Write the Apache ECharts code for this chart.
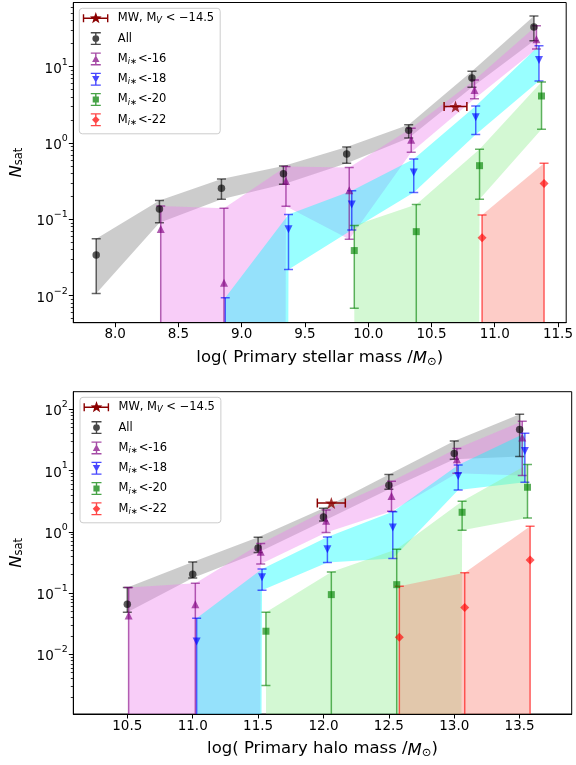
<!DOCTYPE html>
<html>
<head>
<meta charset="utf-8">
<script src="https://cdn.jsdelivr.net/npm/echarts@6/dist/echarts.min.js"></script>
<style>
  html, body { margin: 0; padding: 0; background: #ffffff; }
  #chart { width: 576px; height: 765px; }
</style>
</head>
<body>
<div id="chart"></div>
<script>
// ---------- Satellite counts vs primary stellar mass (upper panel) ----------
const sAllX = [7.85, 8.35, 8.84, 9.33, 9.83, 10.32, 10.82, 11.31];
const sAllY = [0.034, 0.137, 0.255, 0.397, 0.718, 1.47, 7.11, 33.1];
const sAllLo = [0.0107, 0.0904, 0.183, 0.288, 0.542, 1.16, 5.37, 21.9];
const sAllHi = [0.0555, 0.177, 0.338, 0.50, 0.887, 1.74, 8.7, 46.1];

const s16X = [8.36, 8.86, 9.35, 9.85, 10.34, 10.84, 11.33];
const s16Y = [0.075, 0.0148, 0.318, 0.240, 1.10, 4.95, 22.8];
const s16Lo = [0, 0, 0.148, 0.0547, 0.755, 3.81, 17.0];
const s16Hi = [0.150, 0.140, 0.491, 0.478, 1.56, 6.7, 34.5];

const s18X = [8.87, 9.37, 9.87, 10.36, 10.85, 11.35];
const s18Y = [0, 0.074, 0.157, 0.41, 2.17, 12.2];
const s18Lo = [0, 0.0221, 0.0726, 0.225, 1.29, 6.5];
const s18Hi = [0.0094, 0.116, 0.237, 0.618, 3.06, 18.8];

const s20X = [9.89, 10.38, 10.88, 11.37];
const s20Y = [0.039, 0.069, 0.505, 4.13];
const s20Lo = [0.00683, 0, 0.183, 1.51];
const s20Hi = [0.083, 0.157, 0.826, 6.3];

const s22X = [10.90, 11.39];
const s22Y = [0.0575, 0.295];
const s22Lo = [0, 0];
const s22Hi = [0.114, 0.545];

const sMW = { x: 10.69, xerr: 0.09, y: 3.0 };

// ---------- Satellite counts vs primary halo mass (lower panel) ----------
const hAllX = [10.50, 11.00, 11.50, 12.00, 12.50, 13.00, 13.50];
const hAllY = [0.0655, 0.202, 0.545, 1.75, 5.74, 18.9, 46.6];
const hAllLo = [0.0485, 0.176, 0.46, 1.50, 4.94, 15.3, 16.9];
const hAllHi = [0.1226, 0.321, 0.813, 2.42, 8.58, 30.4, 82.8];

const h16X = [10.51, 11.02, 11.52, 12.02, 12.52, 13.02, 13.52];
const h16Y = [0.0428, 0.0655, 0.474, 1.52, 3.85, 15.3, 34.5];
const h16Lo = [0, 0, 0.298, 0.969, 2.16, 9.0, 8.3];
const h16Hi = [0.1226, 0.144, 0.641, 2.27, 6.67, 22.8, 63.7];

const h18X = [11.03, 11.53, 12.03, 12.53, 13.03, 13.54];
const h18Y = [0.0161, 0.181, 0.518, 1.17, 8.16, 20.9];
const h18Lo = [0, 0.111, 0.314, 0.365, 4.82, 6.43];
const h18Hi = [0.0387, 0.247, 0.824, 2.13, 12.3, 40.6];

const h20X = [11.56, 12.06, 12.56, 13.06, 13.56];
const h20Y = [0.0238, 0.0942, 0.137, 2.08, 5.33];
const h20Lo = [0.00308, 0, 0, 1.06, 1.68];
const h20Hi = [0.0485, 0.221, 0.518, 3.15, 12.5];

const h22X = [12.58, 13.08, 13.58];
const h22Y = [0.019, 0.0578, 0.347];
const h22Lo = [0, 0, 0];
const h22Hi = [0.129, 0.215, 1.23];

const hMW = { x: 12.06, xerr: 0.107, y: 2.95 };

// ---------- axis ticks ----------
const sXTicks = [8.0, 8.5, 9.0, 9.5, 10.0, 10.5, 11.0, 11.5];
const hXTicks = [10.5, 11.0, 11.5, 12.0, 12.5, 13.0, 13.5];
const sYDecades = [-2, -1, 0, 1];
const hYDecades = [-2, -1, 0, 1, 2];

// ---------- styling ----------
const FONT = 'DejaVu Sans';
const GROUPS = {
  all: { marker: 'rgba(0,0,0,0.8)', bar: 'rgba(0,0,0,0.6)', fill: 'rgba(128,128,128,0.4)', symbol: 'circle', size: 7.5, rotate: 0 },
  m16: { marker: 'rgba(128,0,128,0.8)', bar: 'rgba(128,0,128,0.6)', fill: 'rgba(238,130,238,0.4)', symbol: 'triangle', size: 8, rotate: 0 },
  m18: { marker: 'rgba(0,0,255,0.8)', bar: 'rgba(0,0,255,0.6)', fill: 'rgba(0,255,255,0.4)', symbol: 'triangle', size: 8, rotate: 180 },
  m20: { marker: 'rgba(0,128,0,0.8)', bar: 'rgba(0,128,0,0.6)', fill: 'rgba(144,238,144,0.4)', symbol: 'rect', size: 7, rotate: 0 },
  m22: { marker: 'rgba(255,0,0,0.8)', bar: 'rgba(255,0,0,0.6)', fill: 'rgba(250,128,114,0.4)', symbol: 'diamond', size: 9, rotate: 0 }
};
const MW_COLOR = '#8b0000';

// log10 with zero counts sent far below the axis floor
const toLog = v => (v > 0 ? Math.log10(v) : -300);

function starPath(cx, cy, R, r) {
  let d = '';
  for (let k = 0; k < 10; k++) {
    const ang = -Math.PI / 2 + k * Math.PI / 5;
    const rad = k % 2 === 0 ? R : r;
    const px = (cx + rad * Math.cos(ang)).toFixed(3);
    const py = (cy + rad * Math.sin(ang)).toFixed(3);
    d += (k === 0 ? 'M' : 'L') + px + ' ' + py + ' ';
  }
  return d + 'Z';
}

function minorTicks(lo, hi) {
  const out = [];
  for (let n = -4; n <= 3; n++) {
    for (let k = 2; k <= 9; k++) {
      const v = n + Math.log10(k);
      if (v > lo && v < hi) out.push(v);
    }
  }
  return out;
}

function fillSeries(panel, key, xs, lo, hi) {
  const col = GROUPS[key].fill;
  return {
    type: 'custom', name: key, xAxisIndex: panel, yAxisIndex: panel * 2,
    clip: true, silent: true, z: 1,
    data: [[xs[0], toLog(hi[0])]],
    renderItem: (params, api) => {
      const upper = xs.map((x, i) => api.coord([x, toLog(hi[i])]));
      const lower = xs.map((x, i) => api.coord([x, toLog(lo[i])])).reverse();
      return { type: 'polygon', shape: { points: upper.concat(lower) }, style: { fill: col } };
    }
  };
}

function errSeries(panel, key, xs, lo, hi) {
  const col = GROUPS[key].bar;
  return {
    type: 'custom', name: key, xAxisIndex: panel, yAxisIndex: panel * 2,
    clip: true, silent: true, z: 3,
    data: xs.map((x, i) => [x, toLog(lo[i]), toLog(hi[i])]),
    renderItem: (params, api) => {
      const x = api.value(0), l = api.value(1), h = api.value(2);
      const a = api.coord([x, h]);
      const b = api.coord([x, l]);
      const cap = 4.5;
      const st = { stroke: col, lineWidth: 1.5 };
      const kids = [
        { type: 'line', shape: { x1: a[0], y1: a[1], x2: b[0], y2: b[1] }, style: st },
        { type: 'line', shape: { x1: a[0] - cap, y1: a[1], x2: a[0] + cap, y2: a[1] }, style: st }
      ];
      if (l > -299) {
        kids.push({ type: 'line', shape: { x1: b[0] - cap, y1: b[1], x2: b[0] + cap, y2: b[1] }, style: st });
      }
      return { type: 'group', children: kids };
    }
  };
}

function markerSeries(panel, key, xs, ys) {
  const g = GROUPS[key];
  const pts = [];
  xs.forEach((x, i) => { if (ys[i] > 0) pts.push([x, Math.log10(ys[i])]); });
  return {
    type: 'scatter', name: key, xAxisIndex: panel, yAxisIndex: panel * 2,
    silent: true, z: 4, symbol: g.symbol, symbolSize: g.size, symbolRotate: g.rotate,
    itemStyle: { color: g.marker },
    data: pts
  };
}

function groupSeries(panel, key, xs, ys, lo, hi) {
  return [fillSeries(panel, key, xs, lo, hi), errSeries(panel, key, xs, lo, hi), markerSeries(panel, key, xs, ys)];
}

function mwSeries(panel, mw) {
  return [
    {
      type: 'custom', name: 'mw', xAxisIndex: panel, yAxisIndex: panel * 2, silent: true, z: 5, clip: true,
      data: [[mw.x - mw.xerr, mw.x + mw.xerr, Math.log10(mw.y)]],
      renderItem: (params, api) => {
        const a = api.coord([api.value(0), api.value(2)]);
        const b = api.coord([api.value(1), api.value(2)]);
        const st = { stroke: MW_COLOR, lineWidth: 1.5 };
        return {
          type: 'group', children: [
            { type: 'line', shape: { x1: a[0], y1: a[1], x2: b[0], y2: b[1] }, style: st },
            { type: 'line', shape: { x1: a[0], y1: a[1] - 4.5, x2: a[0], y2: a[1] + 4.5 }, style: st },
            { type: 'line', shape: { x1: b[0], y1: b[1] - 4.5, x2: b[0], y2: b[1] + 4.5 }, style: st }
          ]
        };
      }
    },
    {
      type: 'scatter', name: 'mw', xAxisIndex: panel, yAxisIndex: panel * 2, silent: true, z: 6,
      symbol: 'path://' + starPath(0, 0, 10, 4), symbolSize: [12.5, 12],
      itemStyle: { color: MW_COLOR },
      data: [[mw.x, Math.log10(mw.y)]]
    }
  ];
}

// ---------- legend handles (errorbar + marker glyphs in a 30x13 box) ----------
const BOX = 'M0 0h0.01v0.01h-0.01Z M29.99 12.99h0.01v0.01h-0.01Z ';
const CX = 13, CY = 6.5;
const barPath = `M${CX - 0.7} 0h1.4v13h-1.4Z M${CX - 5} 0h10v1.3h-10Z M${CX - 5} 11.7h10v1.3h-10Z `;
const ICONS = {
  mw: BOX + 'M0 5.8h25.6v1.4h-25.6Z M0 2.5h1.4v8h-1.4Z M24.2 2.5h1.4v8h-1.4Z ' + starPath(CX, CY, 6.2, 2.5),
  all: BOX + barPath + `M${CX - 3.4} ${CY}A3.4 3.4 0 1 1 ${CX + 3.4} ${CY}A3.4 3.4 0 1 1 ${CX - 3.4} ${CY}Z`,
  m16: BOX + barPath + `M${CX} 2.9L${CX + 3.7} 9.6L${CX - 3.7} 9.6Z`,
  m18: BOX + barPath + `M${CX - 3.7} 3.4L${CX + 3.7} 3.4L${CX} 10.1Z`,
  m20: BOX + barPath + `M${CX - 3.1} 3.4h6.2v6.2h-6.2Z`,
  m22: BOX + barPath + `M${CX} 2.6L${CX + 3.8} ${CY}L${CX} 10.4L${CX - 3.8} ${CY}Z`
};
const LEGEND_COLORS = {
  mw: MW_COLOR, all: 'rgba(0,0,0,0.72)', m16: 'rgba(128,0,128,0.7)',
  m18: 'rgba(0,0,255,0.72)', m20: 'rgba(0,128,0,0.72)', m22: 'rgba(255,0,0,0.72)'
};
const LEGEND_TEXT = {
  mw: 'MW, M{sub|V} < −14.5',
  all: 'All',
  m16: 'M{subi|i}{op|∗}<-16',
  m18: 'M{subi|i}{op|∗}<-18',
  m20: 'M{subi|i}{op|∗}<-20',
  m22: 'M{subi|i}{op|∗}<-22'
};
const LEGEND_ORDER = ['mw', 'all', 'm16', 'm18', 'm20', 'm22'];

function legendAt(left, top) {
  return {
    orient: 'vertical', left: left, top: top,
    padding: [3, 6, 7, 3.5], itemGap: 6.3, itemWidth: 30, itemHeight: 13,
    backgroundColor: 'rgba(255,255,255,0.85)', borderColor: '#cccccc', borderWidth: 1, borderRadius: 3,
    selectedMode: false,
    data: LEGEND_ORDER.map(k => ({
      name: k, icon: 'path://' + ICONS[k],
      itemStyle: { color: LEGEND_COLORS[k], borderWidth: 0, opacity: 1 }
    })),
    formatter: name => LEGEND_TEXT[name],
    textStyle: {
      fontFamily: FONT, fontSize: 11.5, color: '#000', lineHeight: 14,
      rich: {
        sub: { fontFamily: FONT, fontSize: 8.3, fontStyle: 'italic', lineHeight: 8, verticalAlign: 'bottom', color: '#000' },
        subi: { fontFamily: FONT, fontSize: 8.3, fontStyle: 'italic', lineHeight: 8, verticalAlign: 'bottom', color: '#000' },
        op: { fontFamily: FONT, fontSize: 8.3, lineHeight: 11, verticalAlign: 'bottom', color: '#000', padding: [0, 1, 0, 0] }
      }
    }
  };
}

// ---------- axes ----------
const TICK_FONT = 13.5;
const supLabel = v => '{b|10}{s|' + (v < 0 ? '−' + (-v) : String(v)) + '}';

function xAxisFor(grid, min, max, ticks, title) {
  return {
    type: 'value', gridIndex: grid, min: min, max: max, z: 6,
    name: title, nameLocation: 'middle', nameGap: 25,
    nameTextStyle: {
      fontFamily: FONT, fontSize: 16.5, color: '#000',
      rich: {
        it: { fontFamily: FONT, fontSize: 16.5, fontStyle: 'italic', color: '#000', lineHeight: 20, verticalAlign: 'bottom' },
        sub: { fontFamily: FONT, fontSize: 11.5, color: '#000', lineHeight: 11, verticalAlign: 'bottom' }
      }
    },
    axisLine: { show: true, onZero: false, lineStyle: { color: '#000', width: 1 } },
    axisTick: { show: true, length: 4.5, lineStyle: { color: '#000', width: 1 }, customValues: ticks },
    axisLabel: {
      show: true, margin: 5, fontFamily: FONT, fontSize: TICK_FONT, color: '#000',
      customValues: ticks, formatter: v => v.toFixed(1)
    },
    splitLine: { show: false }
  };
}

function yAxesFor(grid, min, max, decades) {
  return [
    {
      type: 'value', gridIndex: grid, position: 'left', min: min, max: max, z: 6,
      name: '{it|N}{sub|sat}', nameLocation: 'middle', nameGap: 48,
      nameTextStyle: {
        fontFamily: FONT, fontSize: 16.5, color: '#000',
        rich: {
          it: { fontFamily: FONT, fontSize: 16.5, fontStyle: 'italic', color: '#000', lineHeight: 20, verticalAlign: 'bottom' },
          sub: { fontFamily: FONT, fontSize: 11.5, color: '#000', lineHeight: 11, verticalAlign: 'bottom' }
        }
      },
      axisLine: { show: true, onZero: false, lineStyle: { color: '#000', width: 1 } },
      axisTick: { show: true, length: 4.5, lineStyle: { color: '#000', width: 1 }, customValues: decades },
      axisLabel: {
        show: true, margin: 5.5, fontFamily: FONT, fontSize: TICK_FONT, color: '#000',
        customValues: decades, formatter: supLabel,
        rich: {
          b: { fontFamily: FONT, fontSize: TICK_FONT, color: '#000', lineHeight: 19, verticalAlign: 'bottom' },
          s: { fontFamily: FONT, fontSize: 9.5, color: '#000', lineHeight: 11, verticalAlign: 'top' }
        }
      },
      splitLine: { show: false }
    },
    {
      // minor log ticks, drawn on the same left spine
      type: 'value', gridIndex: grid, position: 'left', offset: 0, min: min, max: max, z: 6,
      axisLine: { show: false, onZero: false },
      axisTick: { show: true, length: 2.5, lineStyle: { color: '#000', width: 0.8 }, customValues: minorTicks(min, max) },
      axisLabel: { show: false },
      splitLine: { show: false }
    }
  ];
}

const X_TITLE_S = 'log( Primary stellar mass /{it|M}{sub|⊙})';
const X_TITLE_H = 'log( Primary halo mass /{it|M}{sub|⊙})';

const series = [].concat(
  groupSeries(0, 'all', sAllX, sAllY, sAllLo, sAllHi),
  groupSeries(0, 'm16', s16X, s16Y, s16Lo, s16Hi),
  groupSeries(0, 'm18', s18X, s18Y, s18Lo, s18Hi),
  groupSeries(0, 'm20', s20X, s20Y, s20Lo, s20Hi),
  groupSeries(0, 'm22', s22X, s22Y, s22Lo, s22Hi),
  mwSeries(0, sMW),
  groupSeries(1, 'all', hAllX, hAllY, hAllLo, hAllHi),
  groupSeries(1, 'm16', h16X, h16Y, h16Lo, h16Hi),
  groupSeries(1, 'm18', h18X, h18Y, h18Lo, h18Hi),
  groupSeries(1, 'm20', h20X, h20Y, h20Lo, h20Hi),
  groupSeries(1, 'm22', h22X, h22Y, h22Lo, h22Hi),
  mwSeries(1, hMW)
);

const chart = echarts.init(document.getElementById('chart'), null, { renderer: 'canvas' });
chart.setOption({
  animation: false,
  backgroundColor: '#ffffff',
  grid: [
    { left: 73.3, top: 2.5, width: 494.2, height: 320.2, show: true, borderColor: '#000', borderWidth: 1, backgroundColor: 'transparent' },
    { left: 73.3, top: 391.7, width: 498.4, height: 322.3, show: true, borderColor: '#000', borderWidth: 1, backgroundColor: 'transparent' }
  ],
  xAxis: [
    xAxisFor(0, 7.669, 11.565, sXTicks, X_TITLE_S),
    xAxisFor(1, 10.087, 13.898, hXTicks, X_TITLE_H)
  ],
  yAxis: [].concat(
    yAxesFor(0, -2.354, 1.841, sYDecades),
    yAxesFor(1, -2.975, 2.287, hYDecades)
  ),
  legend: [legendAt(79.3, 8.3), legendAt(80, 397.3)],
  series: series
});
</script>
</body>
</html>
